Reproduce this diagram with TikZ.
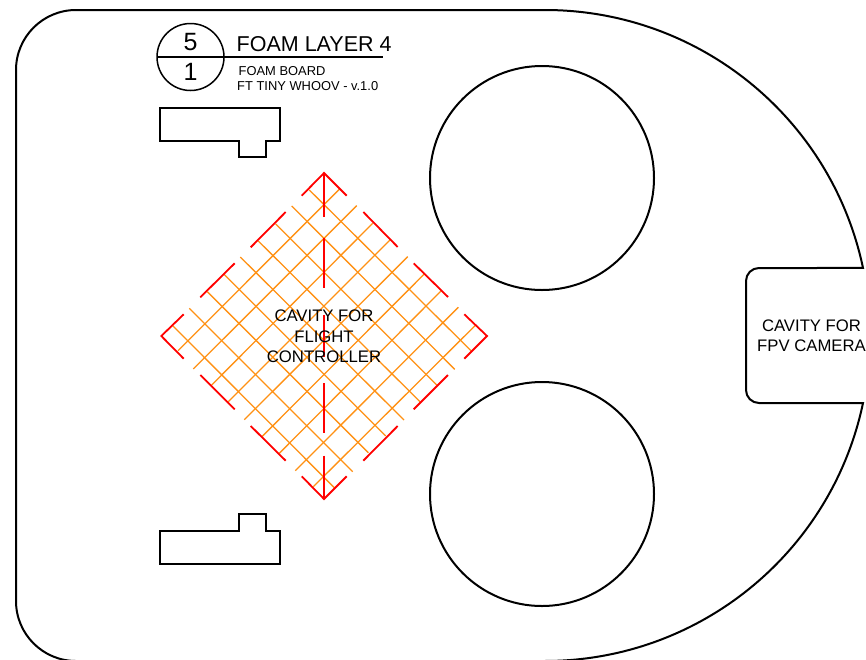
\documentclass[tikz,border=0pt]{standalone}
\usepackage{fontspec}
\setmainfont{Liberation Sans}
\tikzset{
    cutline/.style={black, line width=2pt},
    redline/.style={red, line width=1.8pt},
    hatchline/.style={color=hatchorange, line width=1.3pt},
    cavitytext/.style={align=center, inner sep=0pt, font=\fontsize{16.7}{20.3}\selectfont},
    smalltext/.style={anchor=base west, inner sep=0pt, font=\fontsize{12.9}{15}\selectfont}
}
\definecolor{hatchorange}{RGB}{255,145,20}
\begin{document}
\begin{tikzpicture}[x=1pt,y=-1pt]
        \useasboundingbox (0,0) rectangle (866,659);
        %outline
        \draw[cutline] (545,10) arc (270:348.1:325) -- (759,268) arc (270:180:13)
            -- (746,390) arc (180:90:13) -- (863,403) arc (11.9:90:325)
            -- (76,661) arc (90:180:60) -- (16,70) arc (180:270:60) -- cycle;
        %motor holes
        \draw[cutline] (542,178) circle (112);
        \draw[cutline] (542,494) circle (112);
        %slots
        \draw[cutline] (160,108) -- (280,108) -- (280,141) -- (266,141) -- (266,157) -- (239,157) -- (239,141) -- (160,141) -- cycle;
        \draw[cutline] (160,531) -- (239,531) -- (239,514) -- (266,514) -- (266,531) -- (280,531) -- (280,564) -- (160,564) -- cycle;
        %hatch down
        \draw[hatchline] (309.3,190) -- (471,350.7);
        \draw[hatchline] (291.7,206) -- (454.7,369.3);
        \draw[hatchline] (275.7,224) -- (436.7,385);
        \draw[hatchline] (258.3,241) -- (420,401.7);
        \draw[hatchline] (240.3,257) -- (404,420);
        \draw[hatchline] (224,274.3) -- (385.7,436);
        \draw[hatchline] (207.3,291.7) -- (368.3,452.7);
        \draw[hatchline] (189.3,308.3) -- (352.7,471.7);
        \draw[hatchline] (172.7,325.7) -- (334.3,487.7);
        %hatch up
        \draw[hatchline] (178,350.7) -- (339.3,189.3);
        \draw[hatchline] (193.3,369) -- (356.7,205.7);
        \draw[hatchline] (211.7,385) -- (372.7,223.3);
        \draw[hatchline] (228.3,401.7) -- (390,240);
        \draw[hatchline] (244.3,419.7) -- (407.7,256.7);
        \draw[hatchline] (262.3,436.3) -- (424,274.3);
        \draw[hatchline] (279.3,453.3) -- (441,291);
        \draw[hatchline] (295.3,470.7) -- (458.3,307.3);
        \draw[hatchline] (313.3,486.7) -- (475,325.7);
        %red edges
        \draw[redline] (301.7,195.7) -- (324,173) -- (346.7,195.7);
        \draw[redline] (301.7,476.3) -- (324,499) -- (346.7,476.3);
        \draw[redline] (183.7,314.3) -- (161.3,336) -- (183.7,358.7);
        \draw[redline] (464.3,314.3) -- (487,336) -- (464.3,358.7);
        \draw[redline] (285.7,212) -- (250.7,247.3);
        \draw[redline] (234.7,263.3) -- (200.3,297.3);
        \draw[redline] (363.3,212) -- (397.7,247);
        \draw[redline] (413.7,263.3) -- (448,297);
        \draw[redline] (200.3,375) -- (234.7,409.3);
        \draw[redline] (250.7,426) -- (285.7,460.7);
        \draw[redline] (363.3,460.7) -- (397.7,426);
        \draw[redline] (413.7,409.3) -- (448,375);
        %red centre
        \draw[redline] (324,173) -- (324,216.7);
        \draw[redline] (324,238.3) -- (324,288.3);
        \draw[redline] (324,315) -- (324,357);
        \draw[redline] (324,383.3) -- (324,432.7);
        \draw[redline] (324,455.7) -- (324,499);
        %title block
        \draw[black, line width=1.5pt] (190.5,57) circle (33.5);
        \draw[black, line width=1.5pt] (157,57) -- (382.5,57);
        \node[inner sep=0pt, font=\fontsize{25}{25}\selectfont] (sheetnum) at (190.5,42.5) {5};
        \node[inner sep=0pt, font=\fontsize{25}{25}\selectfont] (sheettotal) at (190.5,72) {1};
        \node[anchor=base west, inner sep=0pt, font=\fontsize{21.5}{21.5}\selectfont] (layertitle) at (236.5,51) {FOAM LAYER 4};
        \node[smalltext] (material) at (238.5,75.5) {FOAM BOARD};
        \node[smalltext] (version) at (237,90) {FT TINY WHOOV - v.1.0};
        %labels
        \node[cavitytext] (fclabel) at (324,336.5) {CAVITY FOR\\FLIGHT\\CONTROLLER};
        \node[cavitytext] (camlabel) at (811.5,336) {CAVITY FOR\\FPV CAMERA};
\end{tikzpicture}
\end{document}
